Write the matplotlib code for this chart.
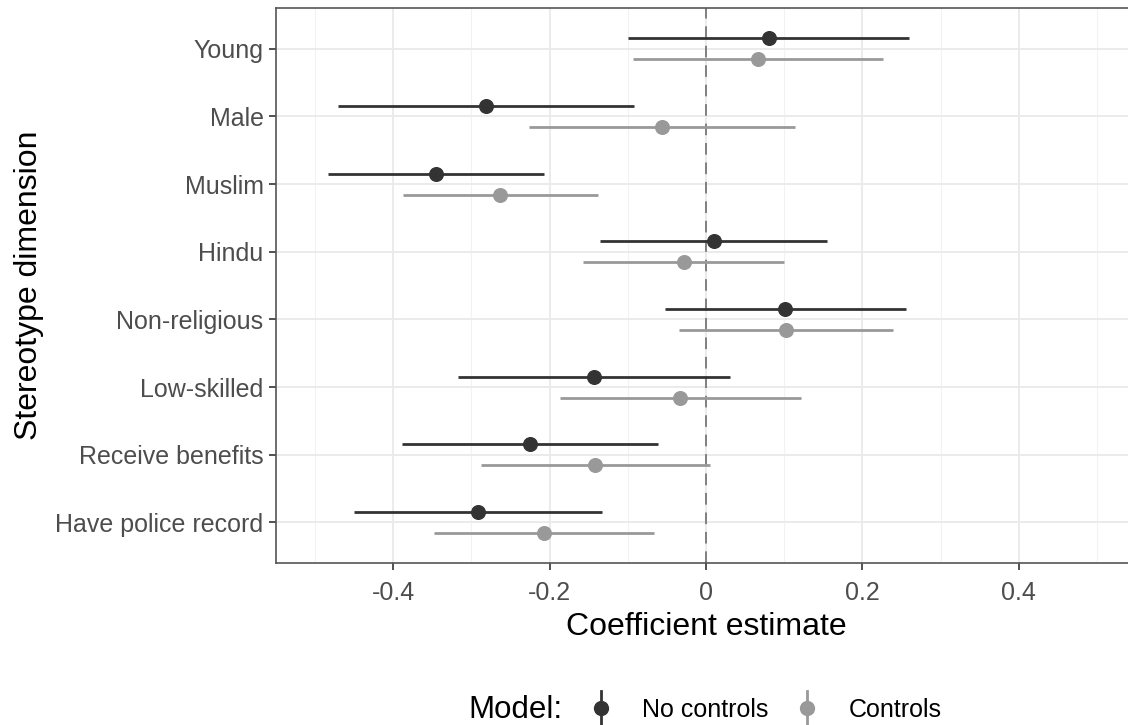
import numpy as np
import matplotlib.pyplot as plt
from matplotlib.lines import Line2D
from matplotlib.legend_handler import HandlerBase

plt.rcParams['font.family'] = ['Liberation Sans', 'DejaVu Sans']

# Stereotype dimensions, top to bottom
dimensions = ["Young", "Male", "Muslim", "Hindu", "Non-religious",
              "Low-skilled", "Receive benefits", "Have police record"]

# Model without controls: estimate and 95% interval
est_nc = [0.080, -0.282, -0.346, 0.010, 0.101, -0.143, -0.225, -0.292]
lo_nc = [-0.100, -0.471, -0.484, -0.135, -0.053, -0.317, -0.389, -0.450]
hi_nc = [0.260, -0.092, -0.207, 0.155, 0.256, 0.031, -0.061, -0.133]

# Model with controls
est_c = [0.067, -0.056, -0.264, -0.028, 0.102, -0.033, -0.142, -0.207]
lo_c = [-0.094, -0.226, -0.388, -0.157, -0.035, -0.187, -0.288, -0.348]
hi_c = [0.226, 0.114, -0.138, 0.100, 0.239, 0.122, 0.005, -0.066]

models = ["No controls", "Controls"]
colors = ["#333333", "#999999"]


class VerticalPointRange(HandlerBase):
    # legend key: vertical line with a point in the middle
    def create_artists(self, legend, orig_handle, xdescent, ydescent,
                       width, height, fontsize, trans):
        cx = width / 2 - xdescent
        c = orig_handle.get_color()
        line = Line2D([cx, cx], [-ydescent - 0.5 * height, height * 1.5 - ydescent],
                      color=c, lw=orig_handle.get_linewidth(), transform=trans)
        pt = Line2D([cx], [height / 2 - ydescent], marker='o', ms=orig_handle.get_markersize(),
                    color=c, transform=trans)
        return [line, pt]


fig = plt.figure(figsize=(11.28, 7.25), dpi=100)
ax = fig.add_axes([0.2447, 0.2234, 0.7624, 0.7655])

n = len(dimensions)
ypos = np.arange(n, 0, -1)
dodge = 0.155

series = [(est_nc, lo_nc, hi_nc, +dodge), (est_c, lo_c, hi_c, -dodge)]
handles = []
for (est, lo, hi, off), col, name in zip(series, colors, models):
    y = ypos + off
    ax.hlines(y, lo, hi, color=col, lw=2.0, zorder=3)
    ax.plot(est, y, 'o', color=col, ms=9.8, zorder=4)
    handles.append(Line2D([], [], color=col, lw=2.0, marker='o', ms=10, label=name))

ax.axvline(0, color='#808080', lw=1.4, ls=(0, (6, 4)), zorder=2)

ax.set_xlim(-0.55, 0.55)
ax.set_ylim(0.4, n + 0.6)
ax.set_xticks([-0.4, -0.2, 0, 0.2, 0.4])
ax.set_xticklabels(["-0.4", "-0.2", "0", "0.2", "0.4"])
ax.set_xticks([-0.5, -0.3, -0.1, 0.1, 0.3, 0.5], minor=True)
ax.set_yticks(ypos)
ax.set_yticklabels(dimensions)

ax.grid(which='major', color='#EBEBEB', lw=1.4, zorder=0)
ax.grid(which='minor', axis='x', color='#F2F2F2', lw=0.8, zorder=0)
ax.set_axisbelow(True)
ax.tick_params(which='minor', length=0)
ax.tick_params(which='major', length=5, width=1.2, color='#333333',
               labelcolor='#4D4D4D', labelsize=18, pad=4)
ax.tick_params(axis='x', which='major', pad=8)
for s in ax.spines.values():
    s.set_color('#555555')
    s.set_linewidth(1.2)

ax.set_xlabel("Coefficient estimate", fontsize=23, labelpad=5)
ax.set_ylabel("Stereotype dimension", fontsize=23, labelpad=8)

fig.text(0.415, 0.021, "Model:", fontsize=22.5, ha='left', va='center')
fig.legend(handles=handles, loc='center left', bbox_to_anchor=(0.506, 0.021),
           ncol=2, frameon=False, fontsize=18, handlelength=0.6,
           handletextpad=1.36, columnspacing=1.24,
           handler_map={Line2D: VerticalPointRange()})

fig.savefig("out.png", dpi=100)
